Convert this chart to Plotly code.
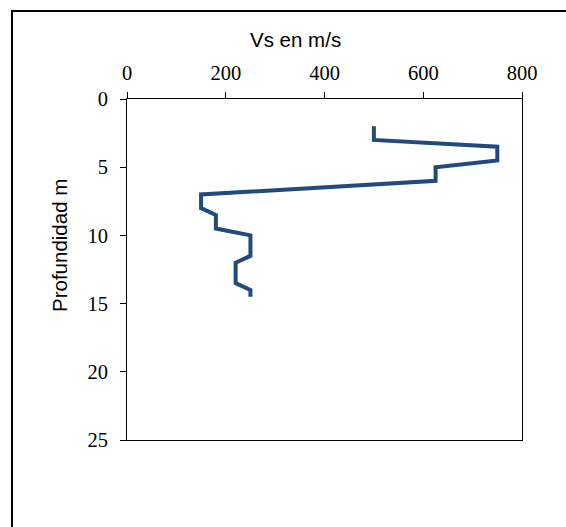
import plotly.graph_objects as go

vs = [500, 500, 750, 750, 625, 625, 150, 150, 180, 180, 250, 250, 220, 220, 250, 250]
depth = [2, 3, 3.5, 4.5, 5, 6, 7, 8, 8.5, 9.5, 10, 11.5, 12, 13.5, 14, 14.5]
x_ticks = [0, 200, 400, 600, 800]
y_ticks = [0, 5, 10, 15, 20, 25]

W, H = 566, 527
L, R, T, B = 127, 522, 99, 440

fig = go.Figure()
fig.add_trace(go.Scatter(x=vs, y=depth, mode="lines",
                         line=dict(color="#224A7E", width=4),
                         showlegend=False, hoverinfo="skip"))

tick_font = dict(family="Liberation Serif", size=20.5, color="black")
fig.update_xaxes(side="top", range=[0, 800], tickvals=x_ticks, ticks="outside", ticklen=6,
                 tickcolor="black", showline=True, linecolor="black", linewidth=1, mirror=True,
                 showgrid=False, zeroline=False, tickfont=tick_font, ticklabelstandoff=4)
fig.update_yaxes(range=[25, 0], tickvals=y_ticks, ticks="outside", ticklen=6,
                 tickcolor="black", showline=True, linecolor="black", linewidth=1, mirror=True,
                 showgrid=False, zeroline=False, tickfont=tick_font, ticklabelstandoff=8)

pw, ph = R - L, B - T
def px(x):
    return (x - L) / pw
def py(y):
    return (B - y) / ph

title_font = dict(family="Liberation Sans", size=20.5, color="black")
fig.add_annotation(text="Vs en m/s", x=px(295), y=py(40), xref="paper", yref="paper",
                   showarrow=False, font=title_font, xanchor="center", yanchor="middle")
fig.add_annotation(text="Profundidad m", x=px(60), y=py(246), xref="paper", yref="paper",
                   showarrow=False, font=title_font, textangle=-90,
                   xanchor="center", yanchor="middle")

fig.add_shape(type="rect", xref="paper", yref="paper",
              x0=px(12), x1=px(580), y0=py(540), y1=py(11),
              line=dict(color="black", width=2), fillcolor="rgba(0,0,0,0)", layer="below")

fig.update_layout(width=W, height=H, margin=dict(l=L, r=W - R, t=T, b=H - B),
                  paper_bgcolor="white", plot_bgcolor="white")

fig.write_html("out.html", config={"displayModeBar": False},
               post_script="document.body.style.margin='0px';document.body.style.overflow='hidden';")
